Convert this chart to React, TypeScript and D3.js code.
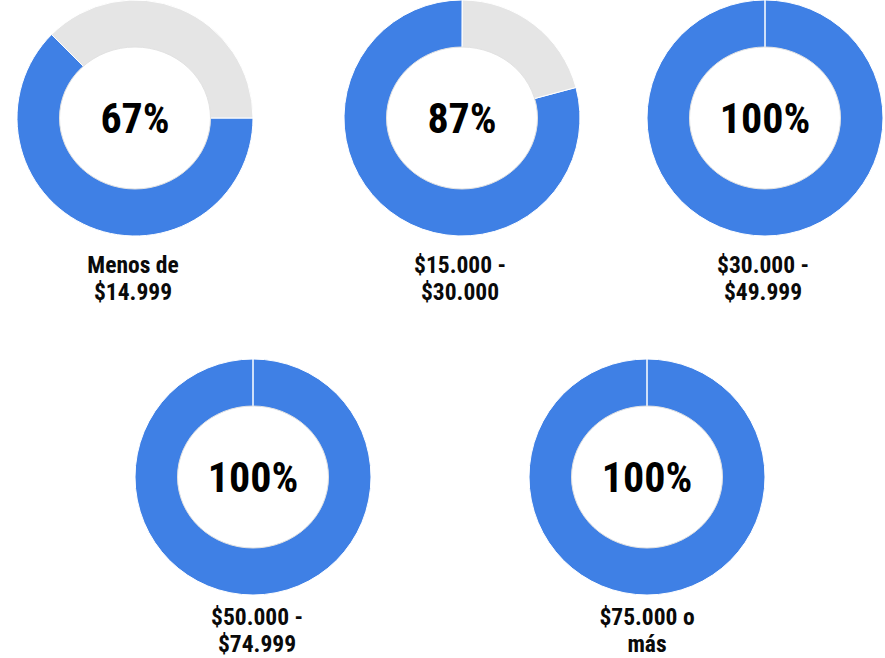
import React from "react";
import * as d3 from "d3";

// income brackets, one donut each
const brackets = ["lt15", "15to30", "30to50", "50to75", "75plus"];
const labelLines = [
  ["Menos de", "$14.999"],
  ["$15.000 -", "$30.000"],
  ["$30.000 -", "$49.999"],
  ["$50.000 -", "$74.999"],
  ["$75.000 o", "más"],
];
const centerLabels = ["67%", "87%", "100%", "100%", "100%"];
// share of the ring painted blue
const blueShare = [62.5, 79.2, 100, 100, 100];
// where the blue slice begins, degrees clockwise from 12 o'clock
const startDeg = [90, 75, 0, 0, 0];

const W = 885;
const H = 658;
const outerR = 118;
const innerR = 68;
const holeRx = 75.5;
const holeRy = 71;
const BLUE = "#3f80e5";
const GREY = "#e5e5e5";
const FONT = "'Roboto Condensed', 'Liberation Sans Narrow', 'DejaVu Sans Condensed', sans-serif";

// small-multiple grid: two rows, uneven columns
const xPos = d3.scaleOrdinal<string, number>().domain(brackets).range([135, 462, 765, 253, 647]);
const rowOf = d3.scaleOrdinal<string, number>().domain(brackets).range([0, 0, 0, 1, 1]);
const yRow = [118, 477];
const labelDy = [[155, 182], [148, 175]];
const labelDx = [-2, -2, -2, 4, 0];

const arc = d3.arc<d3.PieArcDatum<number>>().innerRadius(innerR).outerRadius(outerR);

function Donut({ i }: { i: number }) {
  const key = brackets[i];
  const cx = xPos(key);
  const row = rowOf(key);
  const cy = yRow[row];
  const start = (startDeg[i] * Math.PI) / 180;
  const pie = d3
    .pie<number>()
    .sort(null)
    .value((d) => d)
    .startAngle(start)
    .endAngle(start + 2 * Math.PI);
  const slices = pie([blueShare[i], 100 - blueShare[i]]);
  return (
    <g transform={`translate(${cx},${cy})`}>
      {slices.map((s, j) => (
        <path key={j} d={arc(s) || ""} fill={j === 0 ? BLUE : GREY} stroke="#fff" strokeWidth={1} />
      ))}
      <ellipse rx={holeRx} ry={holeRy} fill="#fff" stroke="#e2e2e2" strokeWidth={1} />
      <text
        y={15}
        textAnchor="middle"
        fontFamily={FONT}
        fontWeight="bold"
        fontSize={42}
        fill="#000"
      >
        {centerLabels[i]}
      </text>
      {labelLines[i].map((ln, k) => (
        <text
          key={k}
          x={labelDx[i]}
          y={labelDy[row][k]}
          textAnchor="middle"
          fontFamily={FONT}
          fontWeight="bold"
          fontSize={23.5}
          fill="#0a0a0a"
        >
          {ln}
        </text>
      ))}
    </g>
  );
}

export default function App() {
  return (
    <div style={{ position: "absolute", left: 0, top: 0, background: "#fff" }}>
      <svg width={W} height={H}>
        <rect width={W} height={H} fill="#fff" />
        {brackets.map((b, i) => (
          <Donut key={b} i={i} />
        ))}
      </svg>
    </div>
  );
}
